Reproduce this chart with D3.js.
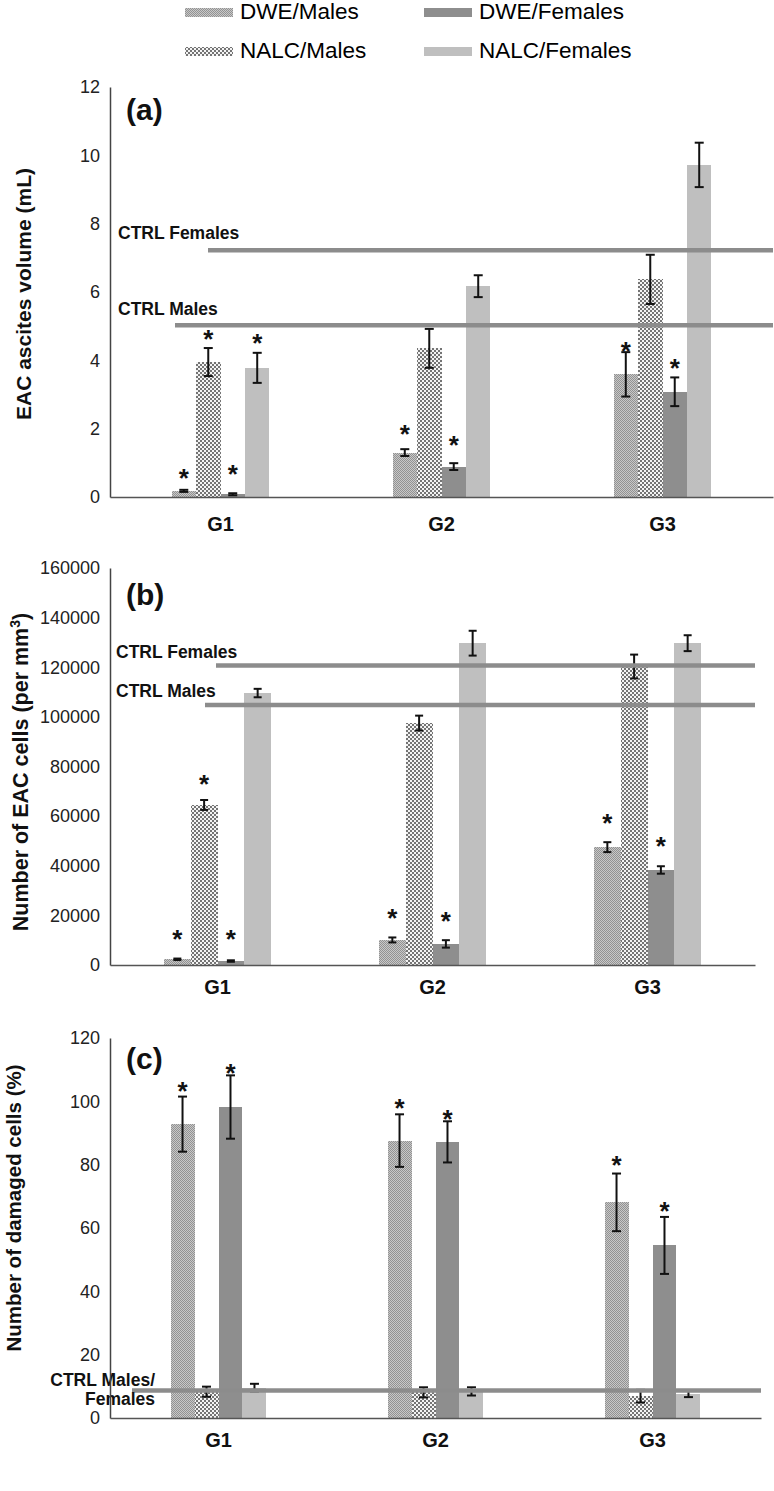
<!DOCTYPE html>
<html><head><meta charset="utf-8">
<script src="https://cdn.jsdelivr.net/npm/d3@7"></script>
<style>
body{margin:0;background:#fff}
svg{display:block}
text{font-family:"Liberation Sans",Arial,Helvetica,sans-serif}
</style>
</head><body>
<svg id="chart" width="774" height="1491"></svg>
<script>
// ---------- DATA ----------
const groups = ["G1", "G2", "G3"];
const seriesNames = ["DWE/Males", "NALC/Males", "DWE/Females", "NALC/Females"];

// Panel (a): EAC ascites volume (mL)
const aDWEMales      = [0.18, 1.30, 3.59];
const aNALCMales     = [3.95, 4.35, 6.37];
const aDWEFemales    = [0.08, 0.89, 3.08];
const aNALCFemales   = [3.78, 6.17, 9.72];
const aErrDWEMales   = [0.03, 0.10, 0.65];
const aErrNALCMales  = [0.41, 0.57, 0.72];
const aErrDWEFemales = [0.03, 0.10, 0.42];
const aErrNALCFemales= [0.44, 0.32, 0.65];
const aStarDWEMales  = [0.74, 2.01, 4.45];
const aStarNALCMales = [4.80, null, null];
const aStarDWEFemales= [0.85, 1.69, 3.96];
const aStarNALCFemales=[4.69, null, null];
const aCtrlMales = 5.03, aCtrlFemales = 7.22;
const aTicks = [0, 2, 4, 6, 8, 10, 12];

// Panel (b): Number of EAC cells (per mm3)
const bDWEMales      = [2300, 10100, 47500];
const bNALCMales     = [64500, 97500, 120300];
const bDWEFemales    = [1600, 8500, 38300];
const bNALCFemales   = [109600, 129700, 129700];
const bErrDWEMales   = [300, 1000, 2000];
const bErrNALCMales  = [2000, 3000, 4800];
const bErrDWEFemales = [300, 1500, 1500];
const bErrNALCFemales= [1700, 5000, 3200];
const bStarDWEMales  = [12900, 21500, 59800];
const bStarNALCMales = [75400, null, null];
const bStarDWEFemales= [12900, 20200, 50400];
const bStarNALCFemales=[null, null, null];
const bCtrlMales = 104800, bCtrlFemales = 120700;
const bTicks = [0, 20000, 40000, 60000, 80000, 100000, 120000, 140000, 160000];

// Panel (c): Number of damaged cells (%)
const cDWEMales      = [92.8, 87.6, 68.1];
const cNALCMales     = [8.3, 8.1, 6.9];
const cDWEFemales    = [98.2, 87.2, 54.5];
const cNALCFemales   = [9.6, 8.4, 7.6];
const cErrDWEMales   = [8.7, 8.3, 9.1];
const cErrNALCMales  = [1.6, 1.6, 2.0];
const cErrDWEFemales = [10.0, 6.5, 9.0];
const cErrNALCFemales= [1.2, 1.3, 1.0];
const cStarDWEMales  = [105.2, 99.7, 81.8];
const cStarNALCMales = [null, null, null];
const cStarDWEFemales= [111.0, 96.3, 67.3];
const cStarNALCFemales=[null, null, null];
const cCtrl = 8.7;
const cTicks = [0, 20, 40, 60, 80, 100, 120];

// ---------- DRAWING ----------
const svg = d3.select("#chart");
const defs = svg.append("defs");

const p1 = defs.append("pattern").attr("id", "pDWEM").attr("patternUnits", "userSpaceOnUse")
  .attr("width", 2).attr("height", 2);
p1.append("rect").attr("width", 2).attr("height", 2).attr("fill", "#c8c8c8");
p1.append("rect").attr("width", 1).attr("height", 1).attr("fill", "#929292");
p1.append("rect").attr("x", 1).attr("y", 1).attr("width", 1).attr("height", 1).attr("fill", "#929292");

const p2 = defs.append("pattern").attr("id", "pNALCM").attr("patternUnits", "userSpaceOnUse")
  .attr("width", 4).attr("height", 4);
p2.append("rect").attr("width", 4).attr("height", 4).attr("fill", "#f4f4f4");
p2.append("rect").attr("width", 2).attr("height", 2).attr("fill", "#747474");
p2.append("rect").attr("x", 2).attr("y", 2).attr("width", 2).attr("height", 2).attr("fill", "#747474");

const fills = {
  "DWE/Males": "url(#pDWEM)",
  "NALC/Males": "url(#pNALCM)",
  "DWE/Females": "#8e8e8e",
  "NALC/Females": "#bfbfbf"
};

// Legend
const legend = [
  {name: "DWE/Males", sx: 185, tx: 240, ty: 18.5},
  {name: "DWE/Females", sx: 424, tx: 479, ty: 18.5},
  {name: "NALC/Males", sx: 185, tx: 240, ty: 57.5},
  {name: "NALC/Females", sx: 424, tx: 479, ty: 57.5}
];
const lg = svg.append("g");
lg.selectAll("rect").data(legend).join("rect")
  .attr("x", d => d.sx).attr("y", d => d.ty - 11).attr("width", 48).attr("height", 9)
  .attr("fill", d => fills[d.name]).attr("shape-rendering", "crispEdges");
lg.selectAll("text").data(legend).join("text")
  .attr("x", d => d.tx).attr("y", d => d.ty)
  .attr("font-size", 22.5).attr("fill", "#000").text(d => d.name);

function drawPanel(cfg) {
  const g = svg.append("g");
  const x0 = d3.scaleBand().domain(groups).range([cfg.left, cfg.right]);
  const gw = x0.bandwidth() * cfg.groupFrac;
  const x1 = d3.scaleBand().domain(seriesNames).range([-gw / 2, gw / 2]);
  const y = d3.scaleLinear().domain([cfg.ticks[0], cfg.ticks[cfg.ticks.length - 1]])
    .range([cfg.bottom, cfg.top]);

  const rows = [];
  seriesNames.forEach((s, si) => {
    groups.forEach((gr, gi) => {
      rows.push({s, gr, v: cfg.values[si][gi], e: cfg.errs[si][gi], st: cfg.stars[si][gi]});
    });
  });
  const cx = d => x0(d.gr) + x0.bandwidth() / 2 + x1(d.s) + x1.bandwidth() / 2;

  // bars
  g.append("g").selectAll("rect").data(rows).join("rect")
    .attr("x", d => x0(d.gr) + x0.bandwidth() / 2 + x1(d.s))
    .attr("width", x1.bandwidth())
    .attr("y", d => y(d.v))
    .attr("height", d => y(0) - y(d.v))
    .attr("fill", d => fills[d.s])
    .attr("shape-rendering", "crispEdges");

  // error bars
  const eb = g.append("g").attr("stroke", "#111").attr("stroke-width", 2);
  rows.forEach(d => {
    const xc = cx(d);
    eb.append("line").attr("x1", xc).attr("x2", xc).attr("y1", y(d.v - d.e)).attr("y2", y(d.v + d.e));
    eb.append("line").attr("x1", xc - cfg.cap / 2).attr("x2", xc + cfg.cap / 2)
      .attr("y1", y(d.v + d.e)).attr("y2", y(d.v + d.e));
    eb.append("line").attr("x1", xc - cfg.cap / 2).attr("x2", xc + cfg.cap / 2)
      .attr("y1", y(d.v - d.e)).attr("y2", y(d.v - d.e));
  });

  // control lines
  cfg.ctrl.forEach(c => {
    g.append("line").attr("x1", c.start).attr("x2", cfg.right)
      .attr("y1", y(c.v)).attr("y2", y(c.v))
      .attr("stroke", "#8c8c8c").attr("stroke-width", 4.5);
  });
  cfg.ctrlLabels.forEach(c => {
    g.append("text").attr("x", c.x).attr("y", c.y).attr("font-size", 17.5)
      .attr("font-weight", "bold").attr("text-anchor", c.anchor || "start")
      .attr("fill", "#111").text(c.t);
  });

  // stars
  g.append("g").selectAll("text").data(rows.filter(d => d.st != null)).join("text")
    .attr("x", cx).attr("y", d => y(d.st) + 15)
    .attr("text-anchor", "middle").attr("font-size", 26).attr("font-weight", "bold").attr("fill", "#111")
    .text("*");

  // axes
  const ya = g.append("g").attr("transform", `translate(${cfg.left},0)`)
    .call(d3.axisLeft(y).tickValues(cfg.ticks).tickSize(0).tickSizeOuter(0).tickPadding(10).tickFormat(d3.format("d")));
  ya.select(".domain").attr("stroke", "#444").attr("stroke-width", 1.5);
  ya.selectAll("text").attr("font-size", 18).attr("fill", "#222")
    .attr("font-family", '"Liberation Sans",Arial,sans-serif');

  const xa = g.append("g").attr("transform", `translate(0,${cfg.bottom})`)
    .call(d3.axisBottom(x0).tickSize(0).tickSizeOuter(0).tickPadding(cfg.xPad));
  xa.select(".domain").attr("stroke", "#555").attr("stroke-width", 1.5);
  xa.selectAll("text").attr("font-size", 20).attr("font-weight", "bold").attr("fill", "#111")
    .attr("font-family", '"Liberation Sans",Arial,sans-serif');

  // y title
  const yt = g.append("text")
    .attr("transform", `translate(${cfg.titleX},${cfg.titleY}) rotate(-90)`)
    .attr("text-anchor", "middle").attr("font-size", cfg.titleSize)
    .attr("font-weight", "bold").attr("fill", "#111");
  cfg.title(yt);

  // panel label
  g.append("text").attr("x", cfg.left + 16).attr("y", cfg.labelY)
    .attr("font-size", 30).attr("font-weight", "bold").attr("fill", "#111").text(cfg.label);
}

drawPanel({
  left: 110, right: 773, top: 87, bottom: 497, groupFrac: 0.443, cap: 9, xPad: 20,
  ticks: aTicks,
  values: [aDWEMales, aNALCMales, aDWEFemales, aNALCFemales],
  errs: [aErrDWEMales, aErrNALCMales, aErrDWEFemales, aErrNALCFemales],
  stars: [aStarDWEMales, aStarNALCMales, aStarDWEFemales, aStarNALCFemales],
  ctrl: [{v: aCtrlFemales, start: 208}, {v: aCtrlMales, start: 175}],
  ctrlLabels: [{t: "CTRL Females", x: 118, y: 239}, {t: "CTRL Males", x: 118, y: 315}],
  titleX: 31, titleY: 294, titleSize: 21,
  title: t => t.text("EAC ascites volume (mL)"),
  label: "(a)", labelY: 120
});

drawPanel({
  left: 110, right: 755, top: 568, bottom: 965, groupFrac: 0.498, cap: 8, xPad: 15,
  ticks: bTicks,
  values: [bDWEMales, bNALCMales, bDWEFemales, bNALCFemales],
  errs: [bErrDWEMales, bErrNALCMales, bErrDWEFemales, bErrNALCFemales],
  stars: [bStarDWEMales, bStarNALCMales, bStarDWEFemales, bStarNALCFemales],
  ctrl: [{v: bCtrlFemales, start: 216}, {v: bCtrlMales, start: 205}],
  ctrlLabels: [{t: "CTRL Females", x: 116, y: 658}, {t: "CTRL Males", x: 116, y: 697}],
  titleX: 28, titleY: 772, titleSize: 21.5,
  title: t => {
    t.append("tspan").text("Number of EAC cells (per mm");
    t.append("tspan").attr("dy", -8).attr("font-size", 14).text("3");
    t.append("tspan").attr("dy", 8).text(")");
  },
  label: "(b)", labelY: 605
});

drawPanel({
  left: 110, right: 761, top: 1038, bottom: 1418, groupFrac: 0.442, cap: 9, xPad: 15,
  ticks: cTicks,
  values: [cDWEMales, cNALCMales, cDWEFemales, cNALCFemales],
  errs: [cErrDWEMales, cErrNALCMales, cErrDWEFemales, cErrNALCFemales],
  stars: [cStarDWEMales, cStarNALCMales, cStarDWEFemales, cStarNALCFemales],
  ctrl: [{v: cCtrl, start: 132}],
  ctrlLabels: [{t: "CTRL Males/", x: 155, y: 1386, anchor: "end"}, {t: "Females", x: 155, y: 1405, anchor: "end"}],
  titleX: 21, titleY: 1208, titleSize: 20.5,
  title: t => t.text("Number of damaged cells (%)"),
  label: "(c)", labelY: 1069
});
</script>
</body></html>
